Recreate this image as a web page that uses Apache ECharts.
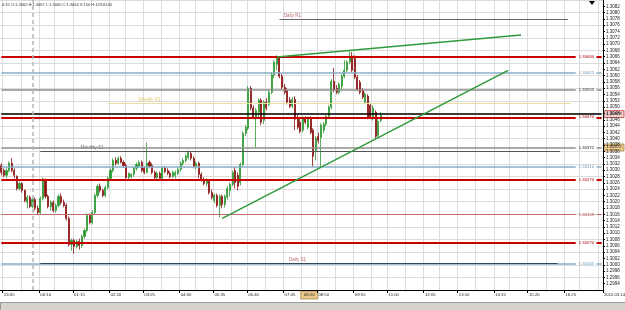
<!DOCTYPE html>
<html>
<head>
<meta charset="utf-8">
<script src="https://cdn.jsdelivr.net/npm/echarts@6/dist/echarts.min.js"></script>
<style>
html, body { margin: 0; padding: 0; background: #fff; }
#chart { width: 625px; height: 310px; }
</style>
</head>
<body>
<div id="chart"></div>
<script>
// M5 bars, [open, close, low, high]
var ohlc = [
  [1.30315,1.30293,1.30284,1.30322],[1.30299,1.30284,1.30277,1.30306],[1.30284,1.30299,1.30274,1.30306],
  [1.30299,1.30322,1.30293,1.30328],[1.30322,1.30299,1.30293,1.30338],[1.30299,1.30284,1.30274,1.30306],
  [1.30280,1.30242,1.30236,1.30284],[1.30242,1.30258,1.30236,1.30264],[1.30258,1.30236,1.30229,1.30261],
  [1.30236,1.30204,1.30198,1.30239],[1.30198,1.30214,1.30179,1.30220],[1.30214,1.30185,1.30179,1.30220],
  [1.30185,1.30207,1.30179,1.30214],[1.30207,1.30179,1.30172,1.30214],[1.30179,1.30166,1.30159,1.30188],
  [1.30166,1.30210,1.30159,1.30217],[1.30210,1.30268,1.30204,1.30277],[1.30268,1.30217,1.30210,1.30274],
  [1.30217,1.30185,1.30179,1.30223],[1.30185,1.30198,1.30172,1.30204],[1.30198,1.30172,1.30166,1.30204],
  [1.30172,1.30188,1.30166,1.30195],[1.30188,1.30217,1.30182,1.30223],[1.30217,1.30198,1.30191,1.30226],
  [1.30198,1.30188,1.30182,1.30207],[1.30188,1.30147,1.30140,1.30195],[1.30147,1.30064,1.30058,1.30153],
  [1.30064,1.30077,1.30045,1.30083],[1.30077,1.30058,1.30035,1.30083],[1.30058,1.30074,1.30051,1.30080],
  [1.30074,1.30061,1.30048,1.30083],[1.30061,1.30090,1.30054,1.30096],[1.30090,1.30109,1.30083,1.30115],
  [1.30109,1.30156,1.30102,1.30163],[1.30156,1.30134,1.30128,1.30163],[1.30134,1.30166,1.30128,1.30172],
  [1.30166,1.30220,1.30159,1.30226],[1.30220,1.30249,1.30214,1.30255],[1.30249,1.30236,1.30229,1.30258],
  [1.30236,1.30220,1.30214,1.30242],[1.30220,1.30245,1.30214,1.30252],[1.30245,1.30274,1.30239,1.30280],
  [1.30274,1.30299,1.30268,1.30306],[1.30299,1.30331,1.30293,1.30338],[1.30331,1.30322,1.30315,1.30341],
  [1.30322,1.30338,1.30318,1.30344],[1.30338,1.30325,1.30322,1.30344],[1.30325,1.30315,1.30309,1.30331],
  [1.30315,1.30277,1.30271,1.30322],[1.30277,1.30290,1.30271,1.30293],[1.30280,1.30287,1.30274,1.30290],
  [1.30287,1.30306,1.30280,1.30312],[1.30306,1.30318,1.30299,1.30325],[1.30312,1.30325,1.30309,1.30331],
  [1.30325,1.30299,1.30293,1.30331],[1.30306,1.30293,1.30287,1.30312],[1.30293,1.30322,1.30290,1.30388],
  [1.30325,1.30312,1.30306,1.30331],[1.30315,1.30293,1.30287,1.30322],[1.30293,1.30277,1.30271,1.30299],
  [1.30277,1.30290,1.30271,1.30296],[1.30290,1.30274,1.30268,1.30296],[1.30274,1.30306,1.30271,1.30312],
  [1.30306,1.30296,1.30290,1.30312],[1.30299,1.30290,1.30284,1.30306],[1.30290,1.30280,1.30274,1.30296],
  [1.30280,1.30293,1.30274,1.30299],[1.30284,1.30293,1.30274,1.30299],[1.30290,1.30303,1.30284,1.30309],
  [1.30303,1.30322,1.30296,1.30328],[1.30322,1.30331,1.30315,1.30338],[1.30331,1.30344,1.30325,1.30350],
  [1.30341,1.30357,1.30334,1.30363],[1.30353,1.30338,1.30331,1.30360],[1.30338,1.30312,1.30306,1.30344],
  [1.30312,1.30322,1.30303,1.30328],[1.30322,1.30287,1.30274,1.30328],[1.30287,1.30271,1.30264,1.30293],
  [1.30271,1.30258,1.30252,1.30277],[1.30258,1.30268,1.30249,1.30274],[1.30268,1.30229,1.30223,1.30271],
  [1.30229,1.30214,1.30207,1.30239],[1.30204,1.30220,1.30195,1.30226],[1.30220,1.30188,1.30182,1.30226],
  [1.30188,1.30217,1.30150,1.30223],[1.30217,1.30191,1.30179,1.30223],[1.30191,1.30217,1.30182,1.30223],
  [1.30214,1.30242,1.30207,1.30249],[1.30236,1.30255,1.30217,1.30261],[1.30255,1.30293,1.30249,1.30299],
  [1.30299,1.30261,1.30242,1.30309],[1.30284,1.30249,1.30236,1.30293],[1.30261,1.30318,1.30252,1.30325],
  [1.30318,1.30417,1.30312,1.30423],[1.30417,1.30436,1.30408,1.30443],[1.30433,1.30560,1.30427,1.30567],
  [1.30560,1.30497,1.30490,1.30567],[1.30497,1.30468,1.30462,1.30506],[1.30468,1.30490,1.30373,1.30497],
  [1.30484,1.30522,1.30465,1.30528],[1.30522,1.30452,1.30443,1.30528],[1.30458,1.30516,1.30446,1.30522],
  [1.30516,1.30497,1.30490,1.30528],[1.30509,1.30547,1.30503,1.30554],[1.30547,1.30602,1.30541,1.30611],
  [1.30602,1.30643,1.30592,1.30649],[1.30636,1.30656,1.30617,1.30665],[1.30656,1.30598,1.30592,1.30662],
  [1.30598,1.30563,1.30557,1.30605],[1.30563,1.30547,1.30541,1.30573],[1.30554,1.30516,1.30509,1.30560],
  [1.30522,1.30503,1.30497,1.30532],[1.30503,1.30525,1.30497,1.30532],[1.30525,1.30462,1.30427,1.30535],
  [1.30468,1.30436,1.30430,1.30477],[1.30452,1.30423,1.30417,1.30462],[1.30427,1.30465,1.30420,1.30471],
  [1.30465,1.30452,1.30446,1.30471],[1.30436,1.30465,1.30430,1.30471],[1.30465,1.30420,1.30414,1.30471],
  [1.30427,1.30344,1.30312,1.30433],[1.30363,1.30401,1.30331,1.30408],[1.30408,1.30395,1.30385,1.30420],
  [1.30404,1.30443,1.30309,1.30449],[1.30427,1.30446,1.30417,1.30452],[1.30446,1.30471,1.30439,1.30477],
  [1.30471,1.30500,1.30465,1.30506],[1.30500,1.30582,1.30493,1.30589],[1.30582,1.30554,1.30547,1.30624],
  [1.30560,1.30547,1.30541,1.30570],[1.30547,1.30573,1.30541,1.30579],[1.30567,1.30598,1.30551,1.30605],
  [1.30598,1.30617,1.30592,1.30649],[1.30617,1.30643,1.30611,1.30649],[1.30643,1.30656,1.30636,1.30678],
  [1.30662,1.30617,1.30611,1.30675],[1.30659,1.30595,1.30589,1.30665],[1.30595,1.30557,1.30551,1.30602],
  [1.30579,1.30547,1.30541,1.30586],[1.30554,1.30532,1.30525,1.30560],[1.30516,1.30541,1.30509,1.30547],
  [1.30535,1.30468,1.30462,1.30541],[1.30506,1.30468,1.30462,1.30512],[1.30468,1.30497,1.30458,1.30506],
  [1.30484,1.30408,1.30401,1.30490],[1.30411,1.30455,1.30401,1.30462],[1.30458,1.30474,1.30452,1.30484]
];

var barCount = 232;          // bars visible incl. the empty shift area
var barsPerLabel = 13.46;    // 65 minutes of M5 bars
var timeLabels = ['23:05','00:10','01:15','02:20','03:25','04:30','05:35','06:40','07:45',
                  '08:50','09:55','11:00','12:05','13:10','14:15','15:20','16:25'];

// horizontal price levels with a price tag at the right
var levelValues = [1.30660, 1.30610, 1.30556, 1.30468, 1.30372, 1.30311, 1.30270, 1.30159, 1.30070, 1.30004];
var levelTags   = ['1.30660','1.30615','1.30555','1.30470','1.30372','1.30310','1.30270','1.30159','1.30070','1.30005'];
var levelKinds  = ['red','blue','gray','red','gray','blue','red','thinred','red','blue'];

var bidValue = 1.30478;
var bidTag = '1.30478';

// pivot lines: [name, value, fromBar, toBar, labelBar]
var pivotNames  = ['Daily R1', 'Weekly R1', 'Monthly S1', 'Daily S1'];
var pivotValues = [1.30780, 1.30512, 1.30360, 1.30004];
var pivotFrom   = [107, 41, 15, 15];
var pivotTo     = [218, 219, 215, 214];
var pivotLabelAt = [112, 57, 35, 114];

// trend lines [[bar, price], [bar, price]]
var trendUpper = [[106, 1.30659], [200, 1.30729]];
var trendLower = [[85, 1.30147], [195, 1.30617]];

var daySeparatorBar = 12;
var cursorBar = 116, cursorTime = '08:20';
var cursorPrice = 1.30372;

var kindStyle = {
  red:     { color: '#c80000', width: 2,   text: '#b00000' },
  thinred: { color: '#c46a6a', width: 1,   text: '#b04040' },
  blue:    { color: '#86adc8', width: 1.5, text: '#6d98b8' },
  gray:    { color: '#8e8e8e', width: 1.5, text: '#222' }
};
var pivotStyle = [
  { color: '#6a6a6a', text: '#b04848' },
  { color: '#ece0a0', text: '#d6c04a' },
  { color: '#555555', text: '#444' },
  { color: '#34465a', text: '#b04848' }
];

var categories = [];
for (var i = 0; i < barCount; i++) categories.push(String(i));

var labelAt = {};
timeLabels.forEach(function (t, k) { labelAt[Math.round(1.2 + k * barsPerLabel)] = t; });
var gridAt = {};
for (var k = 0; k < 40; k++) gridAt[Math.round(1.2 + k * barsPerLabel / 2)] = true;

var font = 'Liberation Sans';
var markData = [];

levelValues.forEach(function (v, n) {
  var s = kindStyle[levelKinds[n]];
  markData.push([
    { coord: [0, v], lineStyle: { color: s.color, width: s.width, type: 'solid' },
      label: { show: true, position: 'end', distance: 3, formatter: levelTags[n],
               color: s.text, fontSize: 4.3, fontFamily: font } },
    { coord: [221, v] }
  ]);
  markData.push([
    { coord: [229, v], lineStyle: { color: s.color, width: s.width, type: 'solid' } },
    { coord: [231, v] }
  ]);
});
markData.push([
  { coord: [0, bidValue], lineStyle: { color: '#000', width: 1.5, type: 'solid' } },
  { coord: [231, bidValue] }
]);
pivotNames.forEach(function (nm, n) {
  markData.push([
    { coord: [pivotFrom[n], pivotValues[n]], lineStyle: { color: pivotStyle[n].color, width: 1, type: 'solid' } },
    { coord: [pivotTo[n], pivotValues[n]] }
  ]);
});
markData.push([
  { coord: trendUpper[0], lineStyle: { color: '#2f9a3c', width: 1.5, type: 'solid' } },
  { coord: trendUpper[1] }
]);
markData.push([
  { coord: trendLower[0], lineStyle: { color: '#2f9a3c', width: 1.5, type: 'solid' } },
  { coord: trendLower[1] }
]);
markData.push({ xAxis: daySeparatorBar, lineStyle: { color: '#b4b4b4', width: 1.5, type: [4, 3] } });

var textData = pivotNames.map(function (nm, n) {
  return { name: nm, value: [pivotLabelAt[n], pivotValues[n]],
           label: { color: pivotStyle[n].text } };
});

var chart = echarts.init(document.getElementById('chart'));
var yMin = 1.2992, yMax = 1.3084;

var option = {
  animation: false,
  backgroundColor: '#ffffff',
  grid: { left: 0, right: 22, top: 0, bottom: 20 },
  xAxis: {
    type: 'category',
    data: categories,
    boundaryGap: true,
    axisLine: { lineStyle: { color: '#000', width: 1 } },
    axisTick: { show: true, length: 3, interval: function (idx) { return labelAt.hasOwnProperty(idx); },
                lineStyle: { color: '#000' } },
    axisLabel: {
      interval: function (idx) { return labelAt.hasOwnProperty(idx); },
      formatter: function (val) { return labelAt[+val] || ''; },
      fontSize: 4.3, color: '#222', align: 'left', margin: 3, fontFamily: font
    },
    splitLine: { show: true, interval: function (idx) { return gridAt.hasOwnProperty(idx); },
                 lineStyle: { color: '#dcdcdc', width: 1 } }
  },
  yAxis: [
    {
      type: 'value', position: 'right', min: yMin, max: yMax, interval: 0.0002,
      axisLine: { show: true, lineStyle: { color: '#000' } },
      axisTick: { show: true, length: 2, lineStyle: { color: '#000' } },
      axisLabel: { fontSize: 4.5, color: '#222', margin: 3, fontFamily: font,
                   showMinLabel: false, showMaxLabel: false,
                   formatter: function (v) { return v.toFixed(4); } },
      splitLine: { show: false }
    },
    {
      type: 'value', position: 'right', min: yMin, max: yMax, interval: 0.0004,
      axisLine: { show: false }, axisTick: { show: false }, axisLabel: { show: false },
      splitLine: { show: true, lineStyle: { color: '#dcdcdc', width: 1 } }
    }
  ],
  series: [
    {
      type: 'candlestick',
      data: ohlc,
      barWidth: 1.6,
      itemStyle: {
        color: '#2e9a34', color0: '#8c1212',
        borderColor: '#2e9a34', borderColor0: '#8c1212', borderWidth: 0.8
      },
      markLine: {
        silent: true, animation: false,
        symbol: ['none', 'none'],
        label: { show: false },
        data: markData
      }
    },
    {
      type: 'scatter',
      data: textData,
      symbolSize: 0,
      silent: true,
      label: { show: true, position: 'top', distance: 1, formatter: '{b}', fontSize: 4.6, fontFamily: font }
    }
  ]
};
chart.setOption(option);

var yBid = chart.convertToPixel({ yAxisIndex: 0 }, bidValue);
var yCur = chart.convertToPixel({ yAxisIndex: 0 }, cursorPrice);
var xCur = chart.convertToPixel({ xAxisIndex: 0 }, cursorBar);

chart.setOption({
  graphic: [
    { type: 'rect', left: 0, top: 302, shape: { width: 625, height: 8 },
      style: { fill: '#d6d3cc', stroke: '#9a9a9a', lineWidth: 1 }, silent: true },
    { type: 'text', left: 2, top: 3,
      style: { text: '0:15 O:1.3062 H:1.3067 L:1.3060 C:1.3064 V:150 H:123.6140', fontSize: 4,
               fill: '#333', fontFamily: font } },
    { type: 'polygon', shape: { points: [[589, 1], [595, 1], [592, 5]] }, style: { fill: '#000' } },
    { type: 'rect', shape: { x: 604, y: yBid - 3.5, width: 20, height: 7 },
      style: { fill: '#f4cdcd', stroke: '#c04040', lineWidth: 0.8 } },
    { type: 'text', x: 606, y: yBid - 2.5,
      style: { text: bidTag, fontSize: 4.3, fill: '#222', fontFamily: font } },
    { type: 'rect', shape: { x: 604, y: yCur - 3.5, width: 20, height: 7 },
      style: { fill: '#e9c98a', stroke: '#a2804a', lineWidth: 0.8 } },
    { type: 'text', x: 606, y: yCur - 2.5,
      style: { text: cursorPrice.toFixed(5), fontSize: 4.3, fill: '#222', fontFamily: font } },
    { type: 'rect', shape: { x: xCur - 2, y: 291, width: 17, height: 8 },
      style: { fill: '#e9c98a', stroke: '#a2804a', lineWidth: 0.8 } },
    { type: 'text', x: xCur + 1, y: 293,
      style: { text: cursorTime, fontSize: 4.3, fill: '#222', fontFamily: font } },
    { type: 'text', x: 604, y: 293,
      style: { text: '2012.03.14', fontSize: 4.2, fill: '#222', fontFamily: font } }
  ]
});
</script>
</body>
</html>
